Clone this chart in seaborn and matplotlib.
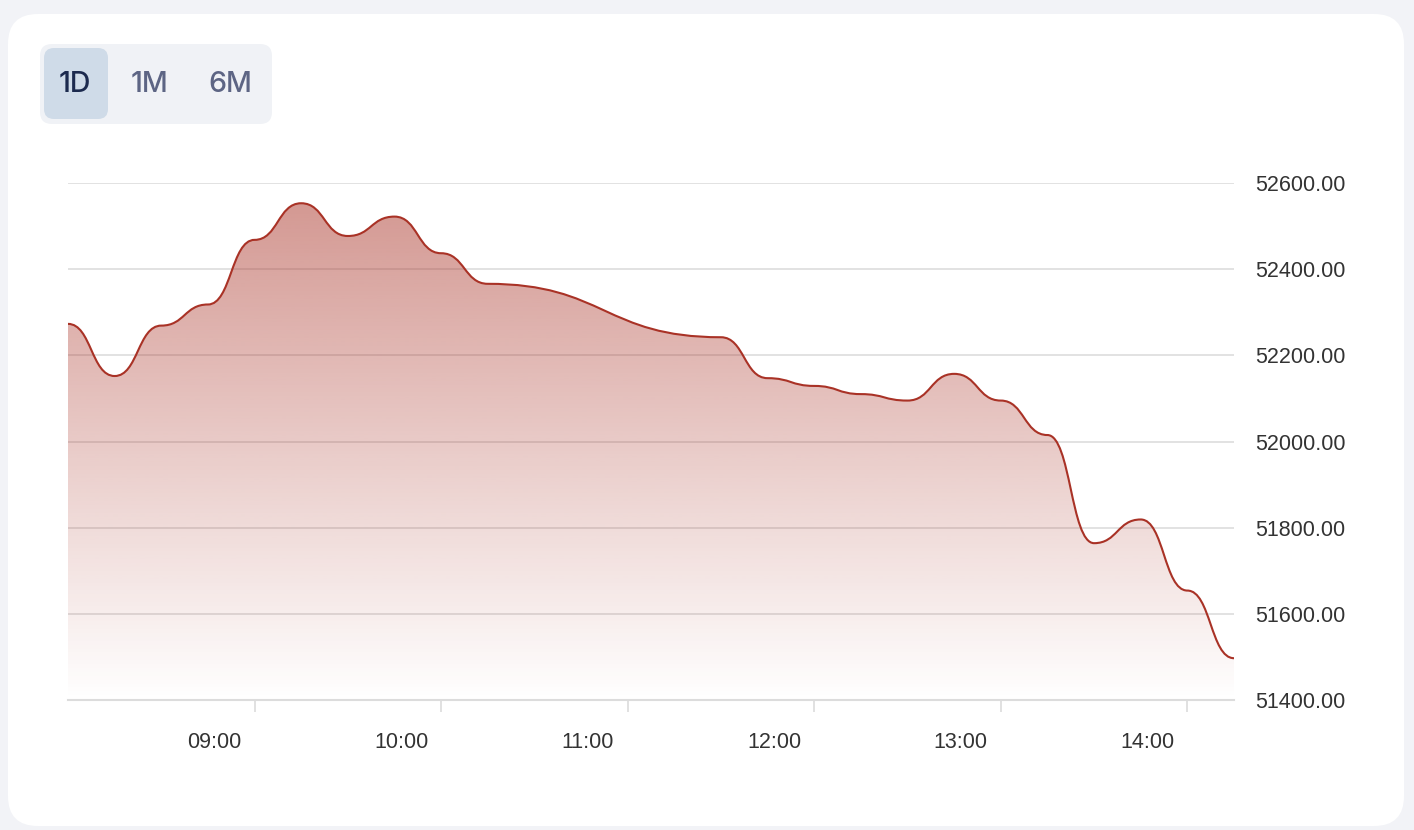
import numpy as np
import matplotlib
matplotlib.use("Agg")
import matplotlib.pyplot as plt
import seaborn as sns
from matplotlib.path import Path
from matplotlib.patches import PathPatch, FancyBboxPatch
import matplotlib.transforms as mtransforms

# ---------------- data ----------------
times = ["08:00", "08:15", "08:30", "08:45", "09:00", "09:15", "09:30", "09:45",
         "10:00", "10:15", "11:30", "11:45", "12:00", "12:15", "12:30", "12:45",
         "13:00", "13:15", "13:30", "13:45", "14:00", "14:15"]
prices = [52273, 52152, 52269, 52318, 52468, 52553, 52477, 52522,
          52437, 52366, 52242, 52147, 52129, 52110, 52095, 52157,
          52095, 52015, 51764, 51819, 51654, 51497]
y_ticks = [51400, 51600, 51800, 52000, 52200, 52400, 52600]
x_tick_labels = ["09:00", "10:00", "11:00", "12:00", "13:00", "14:00"]
range_buttons = ["1D", "1M", "6M"]

def to_min(s):
    h, m = s.split(":")
    return int(h) * 60 + int(m)

t = np.array([to_min(s) for s in times], dtype=float)
p = np.array(prices, dtype=float)
xt = [to_min(s) for s in x_tick_labels]

# ---------------- style ----------------
sns.set_theme(style="white")
plt.rcParams['font.family'] = ['Liberation Sans', 'DejaVu Sans']

W, H = 1414, 830
fig = plt.figure(figsize=(W / 100, H / 100), dpi=100)
fig.patch.set_facecolor('#f2f3f7')

# background / card layer in pixel coordinates
bg = fig.add_axes([0, 0, 1, 1])
bg.set_xlim(0, W)
bg.set_ylim(H, 0)
bg.axis('off')
bg.add_patch(FancyBboxPatch((8, 14), 1396, 812, boxstyle="round,pad=0,rounding_size=30",
                            fc='white', ec='none'))
bg.add_patch(FancyBboxPatch((40, 44), 232, 80, boxstyle="round,pad=0,rounding_size=12",
                            fc='#f0f2f6', ec='none'))
bg.add_patch(FancyBboxPatch((44, 48), 64, 71, boxstyle="round,pad=0,rounding_size=10",
                            fc='#cfdbe8', ec='none'))
btn_x = [75, 150, 230]
for lbl, bx, col in zip(range_buttons, btn_x, ['#1c2a4e', '#5d6584', '#5d6584']):
    bg.text(bx, 85, lbl, ha='center', va='center', fontsize=20.5, color=col,
            fontweight='medium', family=['Inter', 'DejaVu Sans'])

# main axes
ax = fig.add_axes([68 / W, (H - 700) / H, (1234 - 68) / W, (700 - 183) / H])
ax.patch.set_alpha(0)
X0, X1 = t[0], t[-1]
Y0, Y1 = y_ticks[0], y_ticks[-1]

# smooth curve: cubic Bezier segments with horizontal tangents at each point
verts = [(t[0], p[0])]
codes = [Path.MOVETO]
for i in range(1, len(t)):
    xm = (t[i - 1] + t[i]) / 2.0
    verts += [(xm, p[i - 1]), (xm, p[i]), (t[i], p[i])]
    codes += [Path.CURVE4] * 3
verts = np.array(verts)
line_path = Path(verts, codes)

area_verts = np.vstack([verts, [[X1, Y0], [X0, Y0], [X0, Y0]]])
area_codes = codes + [Path.LINETO, Path.LINETO, Path.CLOSEPOLY]
area_path = Path(area_verts, area_codes)

# gradient fill
base = np.array([169, 50, 38]) / 255.0
grad = np.zeros((256, 1, 4))
grad[:, 0, :3] = base
grad[:, 0, 3] = np.linspace(0.0, 0.5, 256)
im = ax.imshow(grad, extent=[X0, X1, Y0, p.max()], origin='lower', aspect='auto',
               zorder=1.5, interpolation='bilinear')
im.set_clip_path(area_path, ax.transData)

ax.add_patch(PathPatch(line_path, fill=False, edgecolor='#a93226', lw=1.5, zorder=3,
                       capstyle='round', joinstyle='round'))

ax.set_xlim(X0, X1)
ax.set_ylim(Y0, Y1)

# grid & axes
ax.set_yticks(y_ticks)
ax.set_yticklabels([f"{v:.2f}" for v in y_ticks])
ax.yaxis.tick_right()
ax.grid(axis='y', color='#e2e2e2', lw=1.4)
ax.grid(axis='x', visible=False)
ax.set_axisbelow(True)
for s in ['top', 'right', 'left']:
    ax.spines[s].set_visible(False)
ax.spines['bottom'].set_color('#dcdcdc')
ax.spines['bottom'].set_linewidth(1.5)
ax.tick_params(axis='y', length=0, pad=15.5, labelsize=15.5, labelcolor='#333333')
ax.set_xticks(xt)
ax.set_xticklabels(x_tick_labels)
ax.tick_params(axis='x', direction='out', length=8.5, width=1.2, color='#dcdcdc',
               pad=12, labelsize=15.5, labelcolor='#333333', bottom=True)
offset = mtransforms.ScaledTranslation(-0.40, -0.035, fig.dpi_scale_trans)
for lab in ax.get_xticklabels():
    lab.set_transform(lab.get_transform() + offset)

fig.savefig('out.png', dpi=100, facecolor=fig.get_facecolor())
